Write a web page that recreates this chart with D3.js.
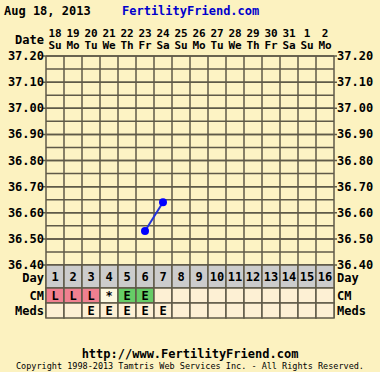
<!DOCTYPE html>
<html lang="en">
<head>
  <meta charset="UTF-8">
  <title>Fertility chart</title>
  <script src="https://d3js.org/d3.v7.min.js"></script>
  <style>
    body { margin: 0; padding: 0; background: #fcf2c0; }
    svg text { font-family: 'DejaVu Sans Mono', monospace; font-weight: bold; fill: #000; }
  </style>
</head>
<body>
  <svg id="chart"></svg>
  <script>
    // chart data
    const dates = ["18","19","20","21","22","23","24","25","26","27","28","29","30","31","1","2"];
    const weekdays = ["Su","Mo","Tu","We","Th","Fr","Sa","Su","Mo","Tu","We","Th","Fr","Sa","Su","Mo"];
    const cycleDays = d3.range(1, 17);
    const tempDays = [6, 7];
    const temps = [36.53, 36.64];
    const cmValues = ["L","L","L","*","E","E","","","","","","","","","",""];
    const medsValues = ["","","E","E","E","E","E","","","","","","","","",""];
    const tempTicks = [37.20, 37.10, 37.00, 36.90, 36.80, 36.70, 36.60, 36.50, 36.40];

    const width = 380, height = 372;
    const svg = d3.select("#chart").attr("width", width).attr("height", height);
    svg.append("rect").attr("width", width).attr("height", height).attr("fill", "#fcf2c0");

    const x = d3.scaleBand().domain(cycleDays).range([46, 334]);
    const y = d3.scaleLinear().domain([36.40, 37.20]).range([265, 56]);
    const gridColor = "#5f5a48";

    // header
    svg.append("text").attr("x", 4).attr("y", 15).attr("font-size", 12).text("Aug 18, 2013");
    svg.append("text").attr("x", 122).attr("y", 15).attr("font-size", 12)
       .style("fill", "#0000cc").text("FertilityFriend.com");
    svg.append("text").attr("x", 44).attr("y", 44).attr("font-size", 12)
       .attr("text-anchor", "end").text("Date");

    svg.selectAll(".date").data(dates).join("text")
       .attr("x", (d, i) => x(cycleDays[i]) + x.bandwidth() / 2)
       .attr("y", 37).attr("font-size", 11).attr("text-anchor", "middle").text(d => d);
    svg.selectAll(".wd").data(weekdays).join("text")
       .attr("x", (d, i) => x(cycleDays[i]) + x.bandwidth() / 2)
       .attr("y", 49).attr("font-size", 11).attr("text-anchor", "middle").text(d => d);

    // plot background
    svg.append("rect").attr("x", 46).attr("y", 56).attr("width", 288).attr("height", 209)
       .attr("fill", "#fdf3c4");

    // horizontal grid every 0.05
    const gridVals = d3.range(0, 17).map(i => 36.40 + i * 0.05);
    svg.selectAll(".hg").data(gridVals).join("line")
       .attr("x1", 46).attr("x2", 334)
       .attr("y1", d => y(d)).attr("y2", d => y(d))
       .attr("stroke", gridColor).attr("stroke-width", 1.5);
    // vertical grid
    svg.selectAll(".vg").data(cycleDays.concat([17])).join("line")
       .attr("x1", d => d === 17 ? 334 : x(d)).attr("x2", d => d === 17 ? 334 : x(d))
       .attr("y1", 56).attr("y2", 318)
       .attr("stroke", gridColor).attr("stroke-width", 1.5);

    // tick marks and labels
    svg.selectAll(".tl").data(tempTicks).join("line")
       .attr("x1", 43).attr("x2", 337)
       .attr("y1", d => y(d)).attr("y2", d => y(d))
       .attr("stroke", gridColor).attr("stroke-width", 1.5);
    svg.selectAll(".yl").data(tempTicks).join("text")
       .attr("x", 44).attr("y", d => y(d) + 4).attr("font-size", 12)
       .attr("text-anchor", "end").text(d => d.toFixed(2));
    svg.selectAll(".yr").data(tempTicks).join("text")
       .attr("x", 337).attr("y", d => y(d) + 4).attr("font-size", 12)
       .text(d => d.toFixed(2));

    // table rows
    const rows = [
      { name: "Day", top: 265, h: 23, values: cycleDays.map(String) },
      { name: "CM", top: 288, h: 15, values: cmValues },
      { name: "Meds", top: 303, h: 15, values: medsValues }
    ];
    function cellColor(row, v) {
      if (row === "Day") return "#cccccc";
      if (row === "CM") {
        if (v === "L") return "#f08090";
        if (v === "E") return "#66cc66";
        if (v === "*") return "#fdf8e0";
      }
      return "#fdf0d4";
    }
    rows.forEach(r => {
      svg.selectAll(".c" + r.name).data(r.values).join("rect")
         .attr("x", (d, i) => x(cycleDays[i])).attr("y", r.top)
         .attr("width", x.bandwidth()).attr("height", r.h)
         .attr("fill", d => cellColor(r.name, d))
         .attr("stroke", gridColor).attr("stroke-width", 1.5);
      svg.selectAll(".t" + r.name).data(r.values).join("text")
         .attr("x", (d, i) => x(cycleDays[i]) + x.bandwidth() / 2)
         .attr("y", r.top + r.h / 2 + 4.5).attr("font-size", r.name === "Day" ? 12 : 12)
         .attr("text-anchor", "middle").text(d => d);
      const ly = r.name === "Day" ? r.top + 17 : r.top + r.h / 2 + 4.5;
      svg.append("text").attr("x", 44).attr("y", ly).attr("font-size", 12)
         .attr("text-anchor", "end").text(r.name);
      svg.append("text").attr("x", 337).attr("y", ly).attr("font-size", 12).text(r.name);
    });

    // temperature line and points
    const pts = tempDays.map((d, i) => [x(d) + x.bandwidth() / 2, y(temps[i])]);
    svg.append("path").attr("d", d3.line()(pts))
       .attr("fill", "none").attr("stroke", "#2233dd").attr("stroke-width", 2);
    svg.selectAll(".pt").data(pts).join("circle")
       .attr("cx", d => d[0]).attr("cy", d => d[1]).attr("r", 4)
       .attr("fill", "#0000ff");

    // footer
    svg.append("text").attr("x", 190).attr("y", 358).attr("font-size", 12)
       .attr("text-anchor", "middle").text("http://www.FertilityFriend.com");
    svg.append("text").attr("x", 190).attr("y", 369).attr("font-size", 8.5)
       .attr("text-anchor", "middle").style("font-weight", "normal")
       .text("Copyright 1998-2013 Tamtris Web Services Inc. - All Rights Reserved.");
  </script>
</body>
</html>
